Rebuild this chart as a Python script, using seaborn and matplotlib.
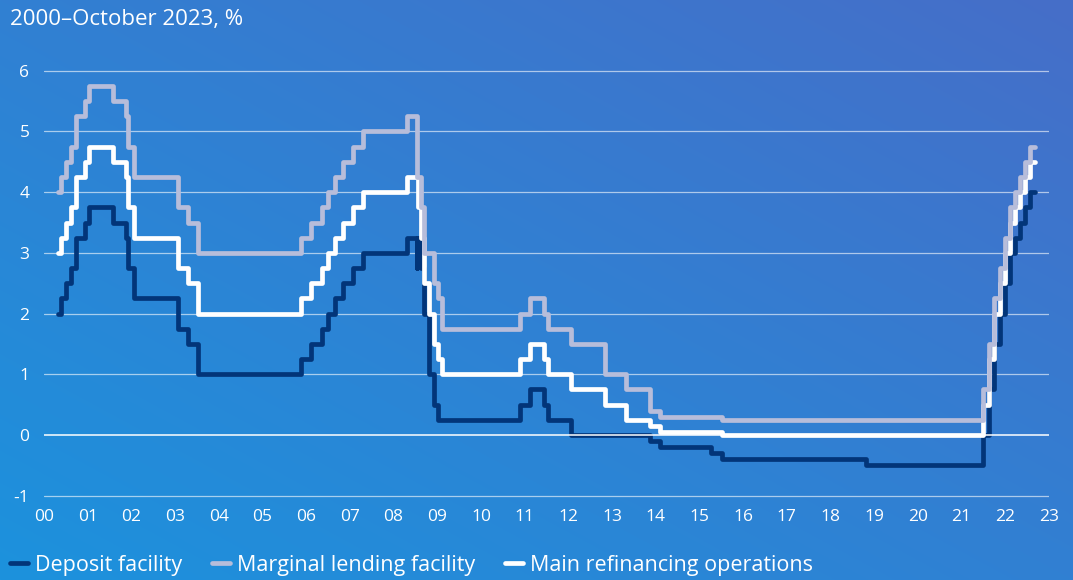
import numpy as np
import pandas as pd
import matplotlib
matplotlib.use("Agg")
import matplotlib.pyplot as plt
import seaborn as sns
from matplotlib.lines import Line2D

# ---------------- data (ECB key interest rates, change dates) ----------------
change_dates = [
    "2000-01-01", "2000-02-04", "2000-03-17", "2000-04-28", "2000-06-09",
    "2000-09-01", "2000-10-06", "2001-05-11", "2001-08-31", "2001-09-18",
    "2001-11-09", "2002-12-06", "2003-03-07", "2003-06-06", "2005-12-06",
    "2006-03-08", "2006-06-15", "2006-08-09", "2006-10-11", "2006-12-13",
    "2007-03-14", "2007-06-13", "2008-07-09", "2008-10-08", "2008-10-09",
    "2008-10-15", "2008-11-12", "2008-12-10", "2009-01-21", "2009-03-11",
    "2009-04-08", "2009-05-13", "2011-04-13", "2011-07-13", "2011-11-09",
    "2011-12-14", "2012-07-11", "2013-05-08", "2013-11-13", "2014-06-11",
    "2014-09-10", "2015-12-09", "2016-03-16", "2019-09-18", "2022-07-27",
    "2022-09-14", "2022-11-02", "2022-12-21", "2023-02-08", "2023-03-22",
    "2023-05-10", "2023-06-21", "2023-08-02", "2023-09-20", "2023-10-31",
]
deposit = [
    2.00, 2.25, 2.50, 2.75, 3.25, 3.50, 3.75, 3.50, 3.25, 2.75,
    2.25, 1.75, 1.50, 1.00, 1.25, 1.50, 1.75, 2.00, 2.25, 2.50,
    2.75, 3.00, 3.25, 2.75, 3.25, 3.25, 2.75, 2.00, 1.00, 0.50,
    0.25, 0.25, 0.50, 0.75, 0.50, 0.25, 0.00, 0.00, 0.00, -0.10,
    -0.20, -0.30, -0.40, -0.50, 0.00, 0.75, 1.50, 2.00, 2.50, 3.00,
    3.25, 3.50, 3.75, 4.00, 4.00,
]
main_refi = [
    3.00, 3.25, 3.50, 3.75, 4.25, 4.50, 4.75, 4.50, 4.25, 3.75,
    3.25, 2.75, 2.50, 2.00, 2.25, 2.50, 2.75, 3.00, 3.25, 3.50,
    3.75, 4.00, 4.25, 4.25, 4.25, 3.75, 3.25, 2.50, 2.00, 1.50,
    1.25, 1.00, 1.25, 1.50, 1.25, 1.00, 0.75, 0.50, 0.25, 0.15,
    0.05, 0.05, 0.00, 0.00, 0.50, 1.25, 2.00, 2.50, 3.00, 3.50,
    3.75, 4.00, 4.25, 4.50, 4.50,
]
marginal = [
    4.00, 4.25, 4.50, 4.75, 5.25, 5.50, 5.75, 5.50, 5.25, 4.75,
    4.25, 3.75, 3.50, 3.00, 3.25, 3.50, 3.75, 4.00, 4.25, 4.50,
    4.75, 5.00, 5.25, 4.75, 4.25, 4.25, 3.75, 3.00, 3.00, 2.50,
    2.25, 1.75, 2.00, 2.25, 2.00, 1.75, 1.50, 1.00, 0.75, 0.40,
    0.30, 0.30, 0.25, 0.25, 0.75, 1.50, 2.25, 2.75, 3.25, 3.75,
    4.00, 4.25, 4.50, 4.75, 4.75,
]
series_names = ["Deposit facility", "Marginal lending facility",
                "Main refinancing operations"]
year_labels = ["00", "01", "02", "03", "04", "05", "06", "07", "08", "09",
               "10", "11", "12", "13", "14", "15", "16", "17", "18", "19",
               "20", "21", "22", "23"]
y_ticks = [-1, 0, 1, 2, 3, 4, 5, 6]
title_text = "2000\u2013October 2023, %"

# ---------------- styling ----------------
sns.set_theme(style="white")
plt.rcParams["font.family"] = ["Open Sans", "DejaVu Sans"]
plt.rcParams["axes.unicode_minus"] = False

colors = {
    "Deposit facility": "#023579",
    "Marginal lending facility": "#b7bdda",
    "Main refinancing operations": "#ffffff",
}

dt = pd.to_datetime(change_dates)
yearfrac = dt.year + (dt.dayofyear - 1) / np.where(dt.is_leap_year, 366, 365)
frames = []
for name, vals in zip(series_names, [deposit, marginal, main_refi]):
    frames.append(pd.DataFrame({"t": yearfrac, "rate": vals, "series": name}))
df = pd.concat(frames, ignore_index=True)

W, H = 1073, 580
fig = plt.figure(figsize=(W / 100, H / 100), dpi=100)

# gradient background
bg = fig.add_axes([0, 0, 1, 1], zorder=-10)
xx, yy = np.meshgrid(np.linspace(0, 1, W), np.linspace(0, 1, H))
u = (xx + (1 - yy)) / 2.0
c0 = np.array([28, 146, 221]) / 255.0   # bottom-left
c1 = np.array([70, 110, 200]) / 255.0   # top-right
img = c0[None, None, :] * (1 - u[..., None]) + c1[None, None, :] * u[..., None]
bg.imshow(img, aspect="auto", extent=[0, 1, 0, 1], origin="upper")
bg.axis("off")

# main axes
ymin, ymax = -1.05, 6.05
px_per_unit = 60.7
ax_bottom_px = 435 + (-ymin) * px_per_unit
ax_top_px = 435 - ymax * px_per_unit
ax = fig.add_axes([44 / W, (H - ax_bottom_px) / H, 1005 / W,
                   (ax_bottom_px - ax_top_px) / H])
ax.set_facecolor("none")

draw_order = ["Deposit facility", "Main refinancing operations",
              "Marginal lending facility"]
sns.lineplot(data=df, x="t", y="rate", hue="series", hue_order=draw_order,
             palette=colors, estimator=None, drawstyle="steps-post",
             linewidth=3.4, legend=False, ax=ax,
             solid_capstyle="round", solid_joinstyle="round", zorder=3)

x0, x1 = 1999.668, 2024.175
ax.set_xlim(x0, x1)
ax.set_ylim(ymin, ymax)

eps = 1e-6
ax.set_xticks(np.linspace(x0 + eps, x1 - eps, len(year_labels)))
ax.set_xticklabels(year_labels)
ax.set_yticks(y_ticks)
ax.set_yticklabels([str(v) for v in y_ticks])
ax.tick_params(axis="x", length=0, pad=7.5, labelsize=12.5, labelcolor="white")
ax.tick_params(axis="y", length=0, pad=10.5, labelsize=12.5, labelcolor="white")
ax.set_xlabel("")
ax.set_ylabel("")
for s in ax.spines.values():
    s.set_visible(False)

for v in y_ticks:
    if v == 0:
        ax.axhline(v, color="white", lw=1.1, zorder=4)
    else:
        ax.axhline(v, color="white", alpha=0.6, lw=0.9, zorder=1)

# title
fig.text(10 / W, 1 - 25 / H, title_text, color="white", fontsize=16,
         ha="left", va="baseline")

# legend
handles = [Line2D([0], [0], color=colors[n], lw=3.4, solid_capstyle="round")
           for n in series_names]
leg = fig.legend(handles, series_names, loc="center left",
                 bbox_to_anchor=(10 / W, 1 - 565 / H), ncol=3, frameon=False,
                 fontsize=15.5, handlelength=0.85, handletextpad=0.3,
                 columnspacing=1.4, borderpad=0, borderaxespad=0)
for t in leg.get_texts():
    t.set_color("white")

fig.savefig("out.png", dpi=100)
